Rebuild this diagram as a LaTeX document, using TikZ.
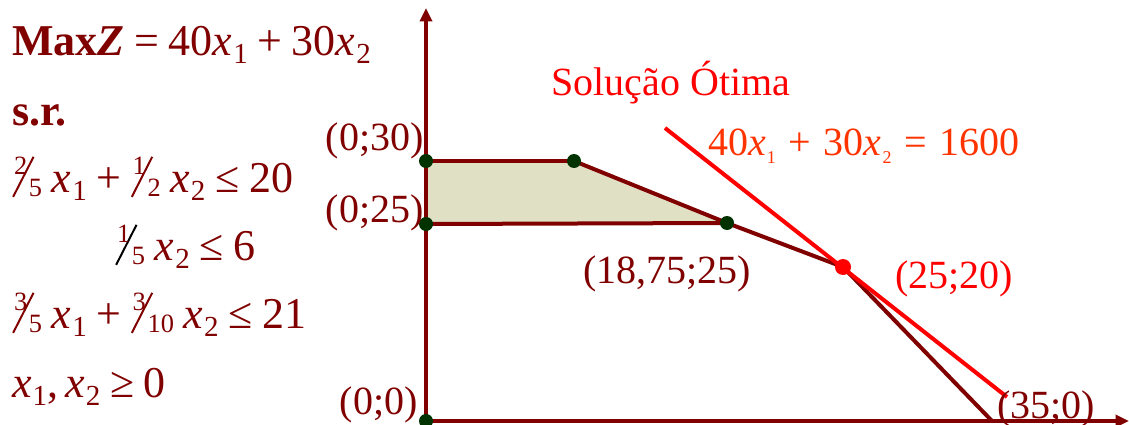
\documentclass[tikz,border=0pt]{standalone}
\usepackage{fontspec}
\setmainfont{Liberation Serif}
\usepackage{graphicx}
\usetikzlibrary{arrows.meta}
\definecolor{dred}{HTML}{800000}
\definecolor{dgreen}{HTML}{003300}
\definecolor{regfill}{HTML}{E0E0C5}
\definecolor{ored}{HTML}{FF3300}
\newcommand\xs[1]{\textit{x}\kern0.02em\raisebox{-0.2em}{\scalebox{0.66}{#1}}}
\newcommand\xt[1]{\textit{x}\kern0.02em\raisebox{-0.22em}{\scalebox{0.45}{#1}}}
\newcommand\slfrac[3][dred]{%
  \rlap{\textcolor{#1}{\raisebox{-0.12em}{\rotatebox{63}{\rule{1.02em}{0.045em}}}}}%
  \rlap{\kern0.04em\raisebox{0.4em}{\scalebox{0.6}{#2}}}%
  \kern0.38em\raisebox{-0.1em}{\scalebox{0.6}{#3}}}
\newcommand\gap{\hspace{0.22em}}
\newcommand\wgap{\hspace{0.32em}}
\begin{document}
\begin{tikzpicture}[x=0.75pt,y=-0.75pt,
  axis/.style={dred,line width=3pt,-{Triangle[length=10pt,width=9pt]}},
  bound/.style={dred,line width=3pt},
  objline/.style={red,line width=3pt},
  vtx/.style={circle,fill=dgreen,inner sep=0pt,minimum size=10.5pt},
  opt/.style={circle,fill=red,inner sep=0pt,minimum size=12pt},
  eq/.style={dred,font=\fontsize{33}{40}\selectfont,anchor=base west,inner sep=0pt},
  lbl/.style={dred,font=\fontsize{30}{36}\selectfont,inner sep=0pt},
]
\useasboundingbox (0,0) rectangle (1129,425);
% positions
\coordinate (O) at (426,421);
\coordinate (A) at (426,161);
\coordinate (B) at (574,161);
\coordinate (C) at (727,223);
\coordinate (D) at (426,224);
\coordinate (E) at (843,267);
\coordinate (F) at (992,421);
\coordinate (ybot) at (426,425);
\coordinate (ytop) at (426,8);
\coordinate (xend) at (1129,421);
\coordinate (r1) at (665,128);
\coordinate (r2) at (1007,397);
% region
\fill[regfill] (A) -- (B) -- (C) -- (D) -- cycle;
% axes
\draw[axis] (ybot) -- (ytop);
\draw[axis] (O) -- (xend);
% boundaries
\draw[bound] (A) -- (B);
\draw[bound] (D) -- (C);
\draw[bound,line join=round] (B) -- (C) -- (E) -- (F);
% objective line
\draw[objline] (r1) -- (r2);
% vertices
\node[vtx] (vO) at (O) {};
\node[vtx] (vA) at (A) {};
\node[vtx] (vB) at (B) {};
\node[vtx] (vC) at (C) {};
\node[vtx] (vD) at (D) {};
\node[opt] (vE) at (E) {};
% model text
\node[eq] (obj) at (12,55) {\textbf{Max\textit{Z}}\gap=\gap40\xs{1}\gap+\gap30\xs{2}};
\node[eq] (sr) at (12,125) {\textbf{s.r.}};
\node[eq] (c1) at (12,192) {\slfrac{2}{5}\gap\xs{1}\gap+\gap\slfrac{1}{2}\gap\xs{2}\gap≤\gap20};
\node[eq] (c2) at (115,260) {\slfrac[black]{1}{5}\gap\xs{2}\gap≤\gap6};
\node[eq] (c3) at (12,328) {\slfrac{3}{5}\gap\xs{1}\gap+\gap\slfrac{3}{10}\gap\xs{2}\gap≤\gap21};
\node[eq] (c4) at (12,397) {\xs{1},\,\xs{2}\gap≥\gap0};
% labels
\node[lbl,anchor=base east] (l030) at (424,150) {(0;30)};
\node[lbl,anchor=base east] (l025) at (424,222) {(0;25)};
\node[lbl,anchor=base east] (l00) at (418,414) {(0;0)};
\node[lbl,anchor=base west] (l1875) at (583,283) {(18,75;25)};
\node[lbl,anchor=base west,red] (l2520) at (895,288) {(25;20)};
\node[lbl,anchor=base west] (l350) at (997,418) {(35;0)};
\node[lbl,anchor=base west,red] (sol) at (551,95) {Solução Ótima};
\node[lbl,anchor=base west,ored] (zeq) at (708,155) {40\xt{1}\wgap+\wgap30\xt{2}\wgap=\wgap1600};
\end{tikzpicture}
\end{document}
